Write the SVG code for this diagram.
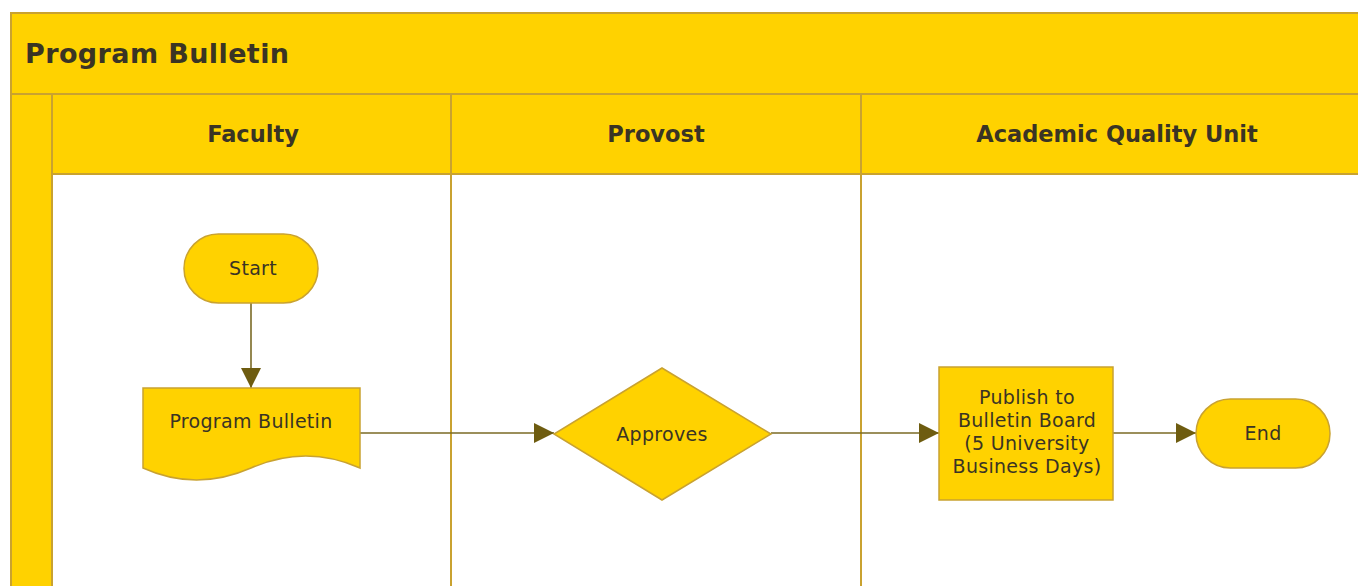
<svg xmlns="http://www.w3.org/2000/svg" width="1358" height="586" viewBox="0 0 1358 586">
  <style>
    .band { fill: #FFD200; stroke: #C9A230; stroke-width: 2; }
    .lane { fill: #FFFFFF; stroke: #C9A230; stroke-width: 2; }
    .shape { fill: #FFD200; stroke: #C9A230; stroke-width: 1.5; }
    .title { font-family: "DejaVu Sans", Verdana, sans-serif; font-weight: bold; font-size: 27px; letter-spacing: 0.4px; fill: #3a3424; }
    .head { font-family: "DejaVu Sans", Verdana, sans-serif; font-weight: bold; font-size: 22.5px; fill: #3a3424; text-anchor: middle; }
    .label { font-family: "DejaVu Sans", Verdana, sans-serif; font-size: 19px; letter-spacing: 0.3px; fill: #3a3424; text-anchor: middle; }
    .conn { fill: none; stroke: #7A6A25; stroke-width: 1.6; }
  </style>
  <defs>
    <marker id="arrow" viewBox="0 0 10 10" refX="10" refY="5" markerWidth="20" markerHeight="20" markerUnits="userSpaceOnUse" orient="auto">
      <path d="M0,0 L10,5 L0,10 Z" fill="#6E5C10"/>
    </marker>
  </defs>

  <rect width="1358" height="586" fill="#FFFFFF"/>

  <!-- pool frame -->
  <g id="pool">
    <rect class="band" x="11" y="13" width="1360" height="81"/>
    <text class="title" x="25" y="63">Program Bulletin</text>
    <rect class="band" x="11" y="94" width="41" height="500"/>
  </g>

  <!-- lanes -->
  <g id="lane-faculty">
    <rect class="lane" x="52" y="174" width="399" height="420"/>
    <rect class="band" x="52" y="94" width="399" height="80"/>
    <text class="head" x="253" y="142">Faculty</text>
  </g>
  <g id="lane-provost">
    <rect class="lane" x="451" y="174" width="410" height="420"/>
    <rect class="band" x="451" y="94" width="410" height="80"/>
    <text class="head" x="656" y="142">Provost</text>
  </g>
  <g id="lane-aqu">
    <rect class="lane" x="861" y="174" width="510" height="420"/>
    <rect class="band" x="861" y="94" width="510" height="80"/>
    <text class="head" x="1117" y="142">Academic Quality Unit</text>
  </g>

  <!-- connectors -->
  <g id="connectors">
    <path class="conn" d="M251,303 V388" marker-end="url(#arrow)"/>
    <path class="conn" d="M360,433 H554" marker-end="url(#arrow)"/>
    <path class="conn" d="M771,433 H939" marker-end="url(#arrow)"/>
    <path class="conn" d="M1113,433 H1196" marker-end="url(#arrow)"/>
  </g>

  <!-- nodes -->
  <g id="start">
    <rect class="shape" x="184" y="234" width="134" height="69" rx="34.5"/>
    <text class="label" x="253" y="275">Start</text>
  </g>
  <g id="program-bulletin">
    <path class="shape" d="M143,388 H360 V468 Q306,444 251,468 T143,468 Z"/>
    <text class="label" x="251" y="428">Program Bulletin</text>
  </g>
  <g id="approves">
    <path class="shape" d="M662,368 L771,434 L662,500 L554,434 Z"/>
    <text class="label" x="662" y="441">Approves</text>
  </g>
  <g id="publish">
    <rect class="shape" x="939" y="367" width="174" height="133"/>
    <text class="label" x="1027" y="404">Publish to</text>
    <text class="label" x="1027" y="427">Bulletin Board</text>
    <text class="label" x="1027" y="450">(5 University</text>
    <text class="label" x="1027" y="473">Business Days)</text>
  </g>
  <g id="end">
    <rect class="shape" x="1196" y="399" width="134" height="69" rx="34.5"/>
    <text class="label" x="1263" y="440">End</text>
  </g>
</svg>
